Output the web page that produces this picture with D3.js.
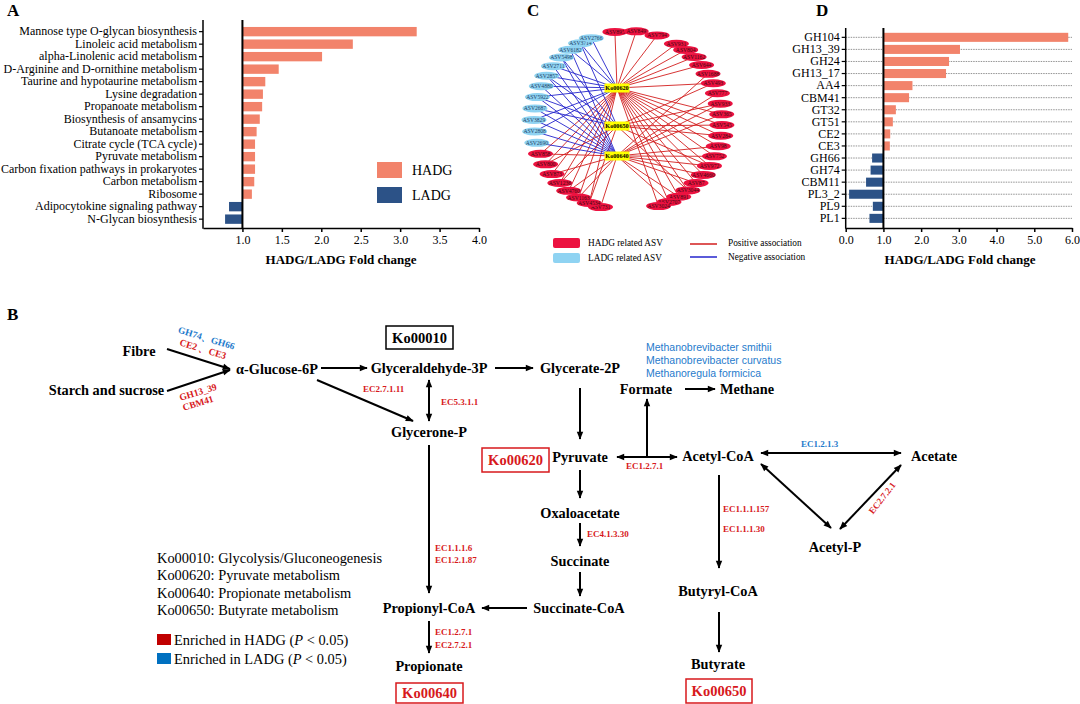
<!DOCTYPE html>
<html>
<head>
<meta charset="utf-8">
<script src="https://cdn.jsdelivr.net/npm/d3@7"></script>
<style>
  body { margin: 0; background: #fff; }
  svg { display: block; }
  text { font-family: "Liberation Serif", "Times New Roman", serif; }
</style>
</head>
<body>
<svg id="fig" width="1080" height="704"></svg>
<script>
// ---- data: panel A (KEGG pathways) ----
var pathwaysA = ["Mannose type O-glycan biosynthesis", "Linoleic acid metabolism",
  "alpha-Linolenic acid metabolism", "D-Arginine and D-ornithine metabolism",
  "Taurine and hypotaurine metabolism", "Lysine degradation", "Propanoate metabolism",
  "Biosynthesis of ansamycins", "Butanoate metabolism", "Citrate cycle (TCA cycle)",
  "Pyruvate metabolism", "Carbon fixation pathways in prokaryotes", "Carbon metabolism",
  "Ribosome", "Adipocytokine signaling pathway", "N-Glycan biosynthesis"];
var foldA = [3.21, 2.40, 2.01, 1.46, 1.29, 1.26, 1.25, 1.22, 1.18, 1.16, 1.16, 1.16, 1.15, 1.12, 0.83, 0.78];
var ticksA = [1.0, 1.5, 2.0, 2.5, 3.0, 3.5, 4.0];

// ---- data: panel D (CAZymes) ----
var cazymes = ["GH104", "GH13_39", "GH24", "GH13_17", "AA4", "CBM41", "GT32", "GT51",
  "CE2", "CE3", "GH66", "GH74", "CBM11", "PL3_2", "PL9", "PL1"];
var foldD = [5.90, 3.03, 2.74, 2.66, 1.77, 1.68, 1.33, 1.25, 1.18, 1.17, 0.70, 0.66, 0.54, 0.09, 0.72, 0.63];
var ticksD = [0, 1, 2, 3, 4, 5, 6];

// ---- data: panel C (network), clockwise from the bottom ----
var hubs = ["Ko00620", "Ko00650", "Ko00640"];
var asvNames = ["ASV731", "ASV4534", "ASV1163", "ASV4760", "ASV1236", "ASV873", "ASV800", "ASV858",
  "ASV2690", "ASV2808", "ASV3829", "ASV2687", "ASV5922", "ASV4880", "ASV2857", "ASV2711",
  "ASV5498", "ASV6182", "ASV3714", "ASV2766",
  "ASV895", "ASV849", "ASV794", "ASV931", "ASV804", "ASV1162", "ASV644", "ASV1688", "ASV493",
  "ASV777", "ASV933", "ASV365", "ASV545", "ASV284", "ASV98", "ASV752", "ASV972", "ASV4660",
  "ASV87", "ASV3044", "ASV891", "ASV2707", "ASV3024"];
var asvGroup = ["H", "H", "H", "H", "H", "H", "H", "H",
  "L", "L", "L", "L", "L", "L", "L", "L", "L", "L", "L", "L",
  "H", "H", "H", "H", "H", "H", "H", "H", "H", "H", "H", "H", "H", "H", "H", "H", "H", "H",
  "H", "H", "H", "H", "H"];
var asvHubs = ["Ko00640", "Ko00620,Ko00650", "Ko00620,Ko00640", "Ko00620,Ko00640", "Ko00620,Ko00650",
  "Ko00620,Ko00640", "Ko00620,Ko00650", "Ko00620,Ko00640",
  "Ko00640", "Ko00620,Ko00640", "Ko00620,Ko00640", "Ko00650,Ko00640", "Ko00620,Ko00650,Ko00640",
  "Ko00620,Ko00640", "Ko00620,Ko00650,Ko00640", "Ko00620,Ko00640", "Ko00650,Ko00640",
  "Ko00620,Ko00640", "Ko00620,Ko00650", "Ko00620",
  "Ko00620", "Ko00620", "Ko00620", "Ko00620", "Ko00620", "Ko00620", "Ko00620", "Ko00640",
  "Ko00620,Ko00650", "Ko00640", "Ko00650,Ko00640", "Ko00620,Ko00640", "Ko00620,Ko00650",
  "Ko00620,Ko00650", "Ko00620,Ko00640", "Ko00620,Ko00640", "Ko00620,Ko00650,Ko00640",
  "Ko00620,Ko00640", "Ko00620,Ko00640", "Ko00620,Ko00650", "Ko00620,Ko00640", "Ko00620,Ko00640",
  "Ko00620"];

// ---- data: panel B (pathway diagram text) ----
var compounds = ["Fibre", "Starch and sucrose", "\u03b1-Glucose-6P", "Glyceraldehyde-3P",
  "Glycerate-2P", "Glycerone-P", "Formate", "Methane", "Pyruvate", "Acetyl-CoA", "Acetate",
  "Acetyl-P", "Oxaloacetate", "Succinate", "Succinate-CoA", "Propionyl-CoA", "Propionate",
  "Butyryl-CoA", "Butyrate"];
var koBoxes = ["Ko00010", "Ko00620", "Ko00640", "Ko00650"];
var enzymes = ["EC2.7.1.11", "EC5.3.1.1", "EC1.2.7.1", "EC1.2.1.3", "EC2.7.2.1", "EC1.1.1.157",
  "EC1.1.1.30", "EC4.1.3.30", "EC1.1.1.6", "EC1.2.1.87", "EC1.2.7.1", "EC2.7.2.1"];
var enzymeGroup = ["H", "H", "H", "L", "H", "H", "H", "H", "H", "H", "H", "H"];
var cazyNotes = ["GH74\u3001GH66", "CE2 \u3001CE3", "GH13_39", "CBM41"];
var cazyGroup = ["L", "H", "H", "H"];
var methanogens = ["Methanobrevibacter smithii", "Methanobrevibacter curvatus", "Methanoregula formicica"];
var koLegend = ["Ko00010: Glycolysis/Gluconeogenesis", "Ko00620: Pyruvate metabolism",
  "Ko00640: Propionate metabolism", "Ko00650: Butyrate metabolism"];

var cH = "#F2836B", cL = "#2C5287";
var redT = "#D7191C", blueT = "#1F7BCC";
var serif = "'Liberation Serif', 'Times New Roman', serif";

var svg = d3.select("#fig");

function panelLabel(t, x, y) {
  svg.append("text").attr("x", x).attr("y", y).attr("font-size", 17)
    .attr("font-weight", "bold").text(t);
}

// ================= Panel A =================
panelLabel("A", 7, 16);
var gA = svg.append("g");
var xA = d3.scaleLinear().domain([0.5, 4]).range([203, 479]);
var yA = d3.scaleBand().domain(pathwaysA).range([25.4, 225.4]).paddingInner(0.25).paddingOuter(0.125);

gA.selectAll("rect.bar").data(pathwaysA).enter().append("rect")
  .attr("x", function (d, i) { return Math.min(xA(1), xA(foldA[i])); })
  .attr("width", function (d, i) { return Math.abs(xA(foldA[i]) - xA(1)); })
  .attr("y", function (d) { return yA(d); })
  .attr("height", yA.bandwidth())
  .attr("fill", function (d, i) { return foldA[i] >= 1 ? cH : cL; });

var axA = gA.append("g").attr("transform", "translate(0,228)")
  .call(d3.axisBottom(xA).tickValues(ticksA).tickFormat(d3.format(".1f")).tickSize(4).tickSizeOuter(0))
  .attr("font-family", serif).attr("font-size", 12);
axA.selectAll("path,line").attr("stroke-width", 1.5);

var ayA = gA.append("g").attr("transform", "translate(203,0)")
  .call(d3.axisLeft(yA).tickSize(4).tickPadding(2))
  .attr("font-family", serif).attr("font-size", 12);
ayA.select(".domain").remove();
ayA.selectAll("line").attr("stroke-width", 1.2);
gA.append("line").attr("x1", 203).attr("x2", 203).attr("y1", 20).attr("y2", 228.75)
  .attr("stroke", "#000").attr("stroke-width", 1.5);
gA.append("line").attr("x1", xA(1)).attr("x2", xA(1)).attr("y1", 20).attr("y2", 228)
  .attr("stroke", "#000").attr("stroke-width", 2);

var legA = gA.selectAll("g.leg").data(["HADG", "LADG"]).enter().append("g")
  .attr("transform", function (d, i) { return "translate(377," + (162 + i * 25) + ")"; });
legA.append("rect").attr("width", 25).attr("height", 16)
  .attr("fill", function (d, i) { return i ? cL : cH; });
legA.append("text").attr("x", 35).attr("y", 8).attr("dy", "0.35em").attr("font-size", 14).text(function (d) { return d; });

gA.append("text").attr("x", 341).attr("y", 259).attr("dy", "0.35em").attr("text-anchor", "middle")
  .attr("font-size", 13).attr("font-weight", "bold").text("HADG/LADG Fold change");

// ================= Panel D =================
panelLabel("D", 816, 16);
var gD = svg.append("g");
var xD = d3.scaleLinear().domain([0, 6]).range([845.7, 1072]);
var yD = d3.scaleBand().domain(cazymes).range([31.3, 224.4]).paddingInner(0.25).paddingOuter(0.125);

gD.selectAll("line.grid").data(cazymes).enter().append("line")
  .attr("x1", xD(0)).attr("x2", xD(6))
  .attr("y1", function (d) { return yD(d) + yD.bandwidth() / 2; })
  .attr("y2", function (d) { return yD(d) + yD.bandwidth() / 2; })
  .attr("stroke", "#666").attr("stroke-width", 0.7).attr("stroke-dasharray", "1.5,1");

gD.selectAll("rect.bar").data(cazymes).enter().append("rect")
  .attr("x", function (d, i) { return Math.min(xD(1), xD(foldD[i])); })
  .attr("width", function (d, i) { return Math.abs(xD(foldD[i]) - xD(1)); })
  .attr("y", function (d) { return yD(d); })
  .attr("height", yD.bandwidth())
  .attr("fill", function (d, i) { return foldD[i] >= 1 ? cH : cL; });

var axD = gD.append("g").attr("transform", "translate(0,228)")
  .call(d3.axisBottom(xD).tickValues(ticksD).tickFormat(d3.format(".1f")).tickSize(4).tickSizeOuter(0))
  .attr("font-family", serif).attr("font-size", 12);
axD.selectAll("path,line").attr("stroke-width", 1.5);

var ayD = gD.append("g").attr("transform", "translate(" + xD(0) + ",0)")
  .call(d3.axisLeft(yD).tickSize(4).tickPadding(2))
  .attr("font-family", serif).attr("font-size", 12);
ayD.select(".domain").remove();
ayD.selectAll("line").attr("stroke-width", 1.2);
gD.append("line").attr("x1", xD(0)).attr("x2", xD(0)).attr("y1", 28).attr("y2", 228.75)
  .attr("stroke", "#000").attr("stroke-width", 1.5);
gD.append("line").attr("x1", xD(1)).attr("x2", xD(1)).attr("y1", 28).attr("y2", 228)
  .attr("stroke", "#000").attr("stroke-width", 2);

gD.append("text").attr("x", 960).attr("y", 259).attr("dy", "0.35em").attr("text-anchor", "middle")
  .attr("font-size", 13).attr("font-weight", "bold").text("HADG/LADG Fold change");

// ================= Panel C =================
panelLabel("C", 527, 16);
var gC = svg.append("g");
var cx = 628, cy = 121, rx = 94, ry = 90;
// circular layout: left arc and right arc, with gaps at the bottom and top
var angle = d3.scaleLinear().domain([0, 19, 20, 23, 42]).range([197, 337, 352, 391, 521]);
var hubPos = { "Ko00620": [617, 88], "Ko00650": [617, 126], "Ko00640": [617, 156] };

var asvNodes = asvNames.map(function (n, i) {
  var a = angle(i) * Math.PI / 180;
  return { id: n, group: asvGroup[i], x: cx + rx * Math.sin(a), y: cy - ry * Math.cos(a) };
});
var linksC = [];
asvNodes.forEach(function (d, i) {
  asvHubs[i].split(",").forEach(function (h) {
    linksC.push({ source: d, target: h, sign: d.group === "H" ? "+" : "-" });
  });
});

gC.selectAll("line.edge").data(linksC).enter().append("line")
  .attr("x1", function (d) { return d.source.x; })
  .attr("y1", function (d) { return d.source.y; })
  .attr("x2", function (d) { return hubPos[d.target][0]; })
  .attr("y2", function (d) { return hubPos[d.target][1]; })
  .attr("stroke", function (d) { return d.sign === "+" ? "#D21E1E" : "#2424CC"; })
  .attr("stroke-width", 0.9);

var nodeC = gC.selectAll("g.asv").data(asvNodes).enter().append("g")
  .attr("transform", function (d) { return "translate(" + d.x + "," + d.y + ")"; });
nodeC.append("ellipse").attr("rx", 12.5).attr("ry", 4)
  .attr("fill", function (d) { return d.group === "H" ? "#EC1240" : "#8FD3F2"; });
nodeC.append("text").attr("text-anchor", "middle").attr("dy", "0.35em").attr("font-size", 5.6)
  .attr("fill", function (d) { return d.group === "H" ? "#3a0a10" : "#1d3f66"; })
  .text(function (d) { return d.id; });

var hubC = gC.selectAll("g.hub").data(hubs).enter().append("g")
  .attr("transform", function (d) { return "translate(" + hubPos[d][0] + "," + hubPos[d][1] + ")"; });
hubC.append("rect").attr("x", -12.5).attr("y", -4.5).attr("width", 25).attr("height", 9).attr("fill", "#FFFF00");
hubC.append("text").attr("text-anchor", "middle").attr("dy", "0.35em").attr("font-size", 6.2)
  .attr("font-weight", "bold").text(function (d) { return d; });

var legC = gC.append("g");
legC.append("rect").attr("x", 553).attr("y", 238).attr("width", 27).attr("height", 10).attr("rx", 2).attr("fill", "#EC1240");
legC.append("rect").attr("x", 553).attr("y", 253).attr("width", 27).attr("height", 10).attr("rx", 2).attr("fill", "#8FD3F2");
legC.append("text").attr("x", 588).attr("y", 243).attr("dy", "0.35em").attr("font-size", 9.3).text("HADG related ASV");
legC.append("text").attr("x", 588).attr("y", 258).attr("dy", "0.35em").attr("font-size", 9.3).text("LADG related ASV");
legC.append("line").attr("x1", 690).attr("x2", 717).attr("y1", 244).attr("y2", 244).attr("stroke", "#D21E1E").attr("stroke-width", 1.5);
legC.append("line").attr("x1", 690).attr("x2", 717).attr("y1", 257).attr("y2", 257).attr("stroke", "#2424CC").attr("stroke-width", 1.5);
legC.append("text").attr("x", 728).attr("y", 243).attr("dy", "0.35em").attr("font-size", 9.3).text("Positive association");
legC.append("text").attr("x", 728).attr("y", 257).attr("dy", "0.35em").attr("font-size", 9.3).text("Negative association");

// ================= Panel B =================
panelLabel("B", 7, 320);
var gB = svg.append("g");
var defs = svg.append("defs");
defs.append("marker").attr("id", "arr").attr("viewBox", "0 -5 10 10")
  .attr("refX", 9).attr("refY", 0).attr("markerUnits", "userSpaceOnUse")
  .attr("markerWidth", 9).attr("markerHeight", 8).attr("orient", "auto-start-reverse")
  .append("path").attr("d", "M0,-4L10,0L0,4Z").attr("fill", "#000");

// layout of the diagram
var posB = {
  "Fibre": [139, 351], "Starch and sucrose": [106.5, 390], "\u03b1-Glucose-6P": [277, 369],
  "Glyceraldehyde-3P": [429, 368], "Glycerate-2P": [580, 368], "Glycerone-P": [429, 432],
  "Formate": [646, 389], "Methane": [747, 389], "Pyruvate": [580, 457], "Acetyl-CoA": [718, 456],
  "Acetate": [934, 456], "Acetyl-P": [835, 547], "Oxaloacetate": [580, 513], "Succinate": [580, 561],
  "Succinate-CoA": [579, 608], "Propionyl-CoA": [429, 608], "Propionate": [429, 666],
  "Butyryl-CoA": [718, 591], "Butyrate": [718, 664]
};
var boxB = {
  "Ko00010": [386, 326, 67, 23, "#000"], "Ko00620": [482, 448, 67, 24, redT],
  "Ko00640": [396, 683, 67, 20, redT], "Ko00650": [686, 679, 66, 24, redT]
};
var arrowsB = [
  [167, 349, 230, 369, 1], [167, 391, 230, 370, 1], [321, 368, 367, 368, 1], [317, 380, 413, 421, 1],
  [429, 380, 429, 421, 2], [495, 368, 533, 368, 1], [580, 388, 580, 439, 1], [617, 457, 677, 457, 2],
  [647, 457, 647, 399, 1], [685, 389, 715, 389, 1], [761, 453, 901, 453, 2], [761, 464, 831, 528, 2],
  [901, 465, 840, 529, 2], [719, 475, 719, 568, 1], [719, 612, 719, 652, 1], [580, 470, 580, 498, 1],
  [580, 523, 580, 546, 1], [580, 572, 580, 596, 1], [527, 608, 482, 608, 1], [429, 445, 429, 593, 1],
  [429, 621, 429, 653, 1]
];
var enzPos = [
  [363, 389, 0], [441, 402, 0], [626, 466, 0], [801, 444, 0], [882, 498, -52, "m"], [723, 509, 0],
  [723, 529, 0], [587, 534, 0], [435, 548, 0], [435, 560, 0], [435, 632, 0], [435, 645, 0]
];
var cazyPos = [[206.5, 338, 17], [203, 349, 17], [198, 392, -17], [198, 403, -17]];

gB.selectAll("line.arrow").data(arrowsB).enter().append("line")
  .attr("x1", function (d) { return d[0]; }).attr("y1", function (d) { return d[1]; })
  .attr("x2", function (d) { return d[2]; }).attr("y2", function (d) { return d[3]; })
  .attr("stroke", "#000").attr("stroke-width", 2)
  .attr("marker-end", "url(#arr)")
  .attr("marker-start", function (d) { return d[4] === 2 ? "url(#arr)" : null; });

gB.selectAll("text.cmp").data(compounds).enter().append("text")
  .attr("x", function (d) { return posB[d][0]; }).attr("y", function (d) { return posB[d][1]; })
  .attr("dy", "0.35em").attr("text-anchor", "middle").attr("font-size", 14.3).attr("font-weight", "bold")
  .text(function (d) { return d; });

var kb = gB.selectAll("g.ko").data(koBoxes).enter().append("g");
kb.append("rect").attr("x", function (d) { return boxB[d][0]; }).attr("y", function (d) { return boxB[d][1]; })
  .attr("width", function (d) { return boxB[d][2]; }).attr("height", function (d) { return boxB[d][3]; })
  .attr("fill", "none").attr("stroke", function (d) { return boxB[d][4]; }).attr("stroke-width", 1.5);
kb.append("text").attr("x", function (d) { return boxB[d][0] + boxB[d][2] / 2; })
  .attr("y", function (d) { return boxB[d][1] + boxB[d][3] / 2; })
  .attr("dy", "0.35em").attr("text-anchor", "middle").attr("font-size", 14.5).attr("font-weight", "bold")
  .attr("fill", function (d) { return boxB[d][4]; }).text(function (d) { return d; });

gB.selectAll("text.enz").data(enzymes).enter().append("text")
  .attr("transform", function (d, i) { var p = enzPos[i]; return "translate(" + p[0] + "," + p[1] + ") rotate(" + p[2] + ")"; })
  .attr("dy", "0.35em").attr("text-anchor", function (d, i) { return enzPos[i][3] ? "middle" : "start"; })
  .attr("font-size", 9).attr("font-weight", "bold")
  .attr("fill", function (d, i) { return enzymeGroup[i] === "H" ? redT : blueT; })
  .text(function (d) { return d; });

gB.selectAll("text.cazy").data(cazyNotes).enter().append("text")
  .attr("transform", function (d, i) { var p = cazyPos[i]; return "translate(" + p[0] + "," + p[1] + ") rotate(" + p[2] + ")"; })
  .attr("dy", "0.35em").attr("text-anchor", "middle").attr("font-size", 9.5).attr("font-weight", "bold")
  .attr("fill", function (d, i) { return cazyGroup[i] === "H" ? redT : blueT; })
  .text(function (d) { return d; });

gB.selectAll("text.meth").data(methanogens).enter().append("text")
  .attr("x", 646).attr("y", function (d, i) { return 347 + i * 13; }).attr("dy", "0.35em")
  .attr("font-family", "'Liberation Sans', Arial, sans-serif").attr("font-size", 10.5).attr("fill", blueT)
  .style("font-family", "'Liberation Sans', Arial, sans-serif")
  .text(function (d) { return d; });

gB.selectAll("text.kol").data(koLegend).enter().append("text")
  .attr("x", 157).attr("y", function (d, i) { return 558 + i * 17.3; }).attr("dy", "0.35em")
  .attr("font-size", 14.4).text(function (d) { return d; });

var enr = gB.selectAll("g.enr").data(["HADG", "LADG"]).enter().append("g")
  .attr("transform", function (d, i) { return "translate(157," + (634 + i * 19) + ")"; });
enr.append("rect").attr("width", 14).attr("height", 11).attr("fill", function (d, i) { return i ? "#0070C0" : "#C00000"; });
var et = enr.append("text").attr("x", 17).attr("y", 5.5).attr("dy", "0.35em").attr("font-size", 14.4);
et.append("tspan").text(function (d) { return "Enriched in " + d + " ("; });
et.append("tspan").attr("font-style", "italic").text("P");
et.append("tspan").text(" < 0.05)");
</script>
</body>
</html>
